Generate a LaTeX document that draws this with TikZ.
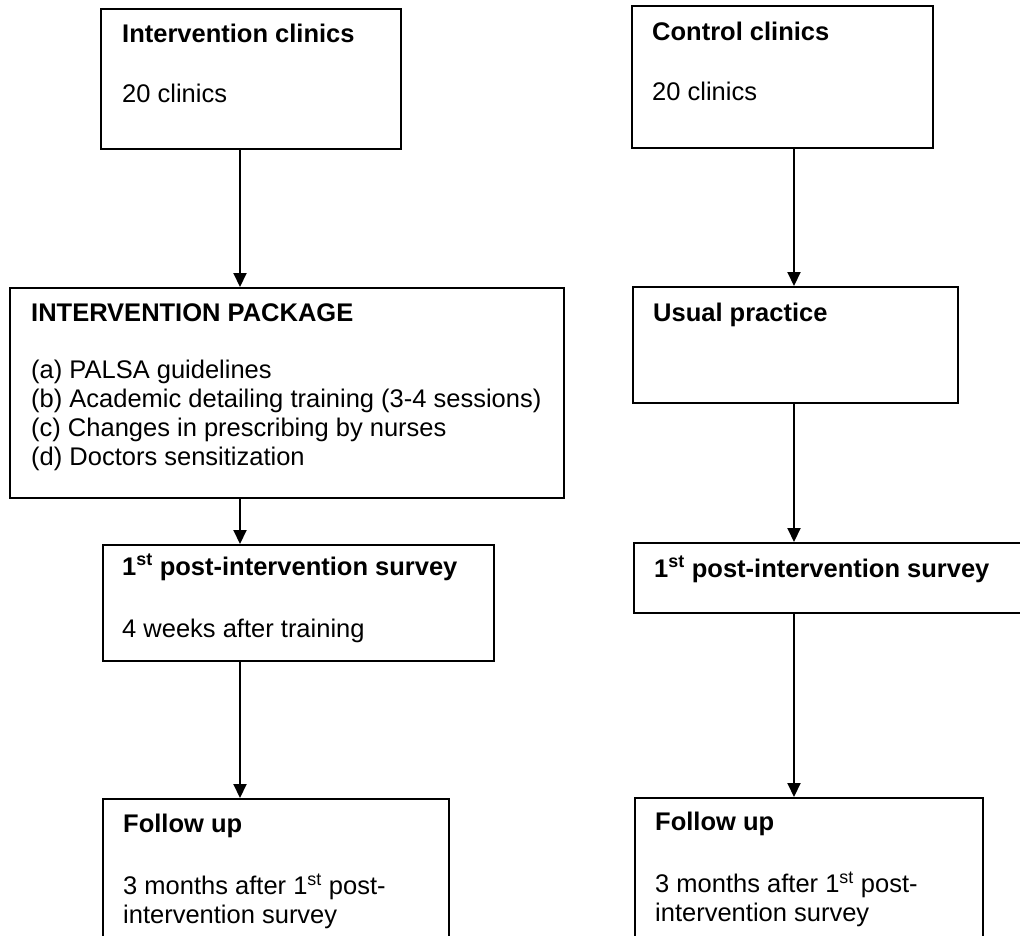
\documentclass[tikz,border=0pt]{standalone}
\usepackage{fontspec}
\setmainfont{Liberation Sans}
\usetikzlibrary{arrows.meta,calc}
\begin{document}
\begin{tikzpicture}[x=1pt,y=-1pt,
  box/.style={draw=black,line width=2pt,rectangle,inner sep=0pt,anchor=north west},
  txt/.style={anchor=base west,inner sep=0pt,font=\fontsize{25.5}{29}\selectfont,align=left},
  ttl/.style={txt,font=\fontsize{25.5}{29}\selectfont\bfseries},
  arr/.style={line width=2pt,-{Triangle[width=13pt,length=14pt]}}]
\useasboundingbox (0,0) rectangle (1020,935);
\clip (0,0) rectangle (1020,935);
% boxes
\node[box,minimum width=300pt,minimum height=140pt] (b1) at (100,8) {};
\node[box,minimum width=301pt,minimum height=142pt] (c1) at (631,5) {};
\node[box,minimum width=554pt,minimum height=210pt] (b2) at (9,287) {};
\node[box,minimum width=325pt,minimum height=116pt] (c2) at (632,286) {};
\node[box,minimum width=391pt,minimum height=116pt] (b3) at (102,544) {};
\node[box,minimum width=400pt,minimum height=70pt] (c3) at (633,542) {};
\node[box,minimum width=346pt,minimum height=150pt] (b4) at (102,798) {};
\node[box,minimum width=348pt,minimum height=150pt] (c4) at (634,797) {};
% texts
\node[ttl] (t1) at (122,42) {Intervention clinics};
\node[txt] (t1b) at (122,102) {20 clinics};
\node[ttl] (u1) at (652,40) {Control clinics};
\node[txt] (u1b) at (652,100) {20 clinics};
\node[ttl] (t2) at (31,321) {INTERVENTION PACKAGE};
\node[txt,anchor=north west] (t2b) at (31,360) {(a) PALSA guidelines\\(b) Academic detailing training (3-4 sessions)\\(c) Changes in prescribing by nurses\\(d) Doctors sensitization};
\node[ttl] (u2) at (653,321) {Usual practice};
\node[ttl] (t3) at (122,575) {1\textsuperscript{st} post-intervention survey};
\node[txt] (t3b) at (122,637) {4 weeks after training};
\node[ttl] (u3) at (654,577) {1\textsuperscript{st} post-intervention survey};
\node[ttl] (t4) at (123,832) {Follow up};
\node[txt,anchor=north west] (t4b) at (123,874) {3 months after 1\textsuperscript{st} post-\\intervention survey};
\node[ttl] (u4) at (655,830) {Follow up};
\node[txt,anchor=north west] (u4b) at (655,872) {3 months after 1\textsuperscript{st} post-\\intervention survey};
% connector columns
\coordinate (la) at (240,0);
\coordinate (ra) at (794,0);
\draw[arr] (b1.south -| la) -- (b2.north -| la);
\draw[arr] (b2.south -| la) -- (b3.north -| la);
\draw[arr] (b3.south -| la) -- (b4.north -| la);
\draw[arr] (c1.south -| ra) -- (c2.north -| ra);
\draw[arr] (c2.south -| ra) -- (c3.north -| ra);
\draw[arr] (c3.south -| ra) -- (c4.north -| ra);
\end{tikzpicture}
\end{document}
